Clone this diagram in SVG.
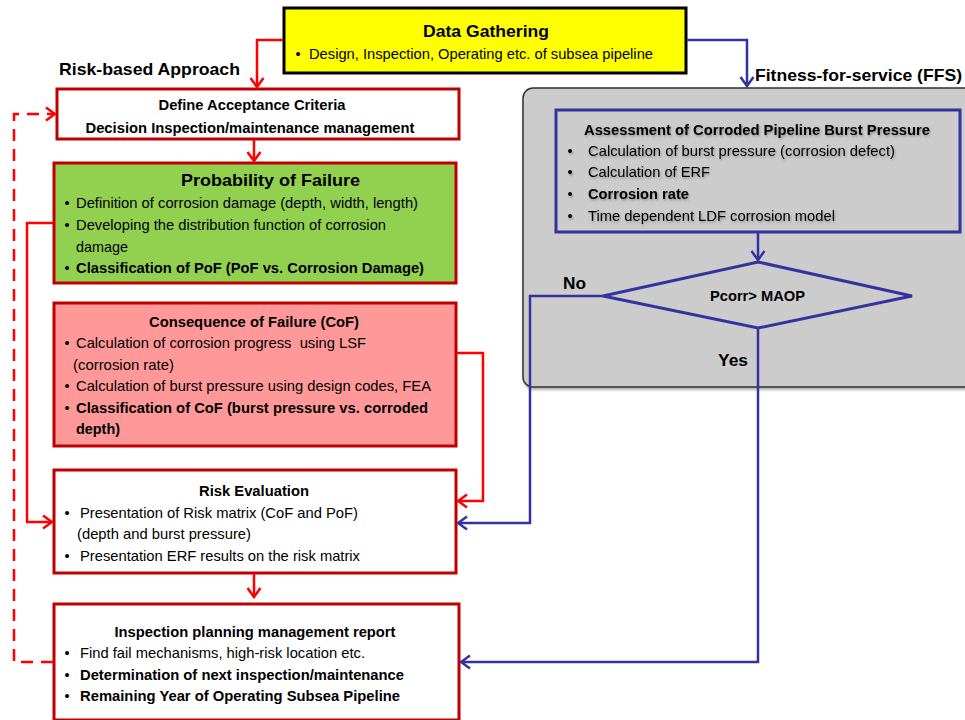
<svg xmlns="http://www.w3.org/2000/svg" width="965" height="720" viewBox="0 0 965 720">
<style>
text{font-family:"Liberation Sans",Arial,sans-serif;fill:#000}
.t{font-weight:bold;font-size:14px;text-anchor:middle}
.big{font-weight:bold;font-size:17px}
.b{font-size:14.5px}
.bb{font-size:14.5px;font-weight:bold}
.rbox{stroke:#C00000;stroke-width:3}
.red{fill:none;stroke:#FF0000;stroke-width:2.5}
.blue{fill:none;stroke:#3333A0;stroke-width:2.5}
.sh{filter:url(#ts)}
</style>
<defs>
<marker id="ar" markerUnits="userSpaceOnUse" viewBox="-12 -8 14 16" markerWidth="14" markerHeight="16" refX="0" refY="0" orient="auto">
<path d="M-9,-6.5 L0,0 L-9,6.5" fill="none" stroke="#FF0000" stroke-width="2.5"/>
</marker>
<marker id="ab" markerUnits="userSpaceOnUse" viewBox="-12 -8 14 16" markerWidth="14" markerHeight="16" refX="0" refY="0" orient="auto">
<path d="M-9,-6.5 L0,0 L-9,6.5" fill="none" stroke="#3333A0" stroke-width="2.5"/>
</marker>
<filter id="ts" x="-5%" y="-30%" width="110%" height="160%">
<feDropShadow dx="1" dy="1.5" stdDeviation="1" flood-color="#000" flood-opacity="0.3"/>
</filter>
<filter id="bs" x="-5%" y="-5%" width="110%" height="110%">
<feDropShadow dx="1" dy="2" stdDeviation="1.5" flood-color="#000" flood-opacity="0.35"/>
</filter>
</defs>

<g id="ffs-panel">
<rect x="523" y="88" width="460" height="299" rx="10" fill="#CCCCCC" stroke="#333" stroke-width="1.5" filter="url(#bs)"/>
</g>

<text class="big" x="59" y="75" textLength="181" lengthAdjust="spacingAndGlyphs">Risk-based Approach</text>
<text class="big" x="755" y="81" textLength="207" lengthAdjust="spacingAndGlyphs">Fitness-for-service (FFS)</text>

<g id="data-gathering">
<rect x="284" y="8" width="402" height="65" fill="#FFFF00" stroke="#000" stroke-width="3"/>
<text class="big" x="423" y="37" textLength="126" lengthAdjust="spacingAndGlyphs">Data Gathering</text>
<text class="b" x="295.5" y="59">•</text>
<text class="b" x="309" y="59" textLength="344" lengthAdjust="spacingAndGlyphs">Design, Inspection, Operating etc. of subsea pipeline</text>
</g>

<g id="acceptance">
<rect class="rbox" x="57" y="89" width="402" height="50" fill="#fff"/>
<text class="t" x="252" y="110" textLength="187" lengthAdjust="spacingAndGlyphs">Define Acceptance Criteria</text>
<text class="t" x="250" y="133" textLength="329" lengthAdjust="spacingAndGlyphs">Decision Inspection/maintenance management</text>
</g>

<g id="pof">
<rect class="rbox" x="54" y="163" width="402" height="120" fill="#92D050"/>
<text class="big" x="181" y="186" textLength="179" lengthAdjust="spacingAndGlyphs">Probability of Failure</text>
<text class="b" x="64.5" y="208">•</text>
<text class="b" x="76" y="208" textLength="342" lengthAdjust="spacingAndGlyphs">Definition of corrosion damage (depth, width, length)</text>
<text class="b" x="64.5" y="230">•</text>
<text class="b" x="76" y="230" textLength="310" lengthAdjust="spacingAndGlyphs">Developing the distribution function of corrosion</text>
<text class="b" x="76" y="252" textLength="52" lengthAdjust="spacingAndGlyphs">damage</text>
<text class="b" x="64.5" y="273">•</text>
<text class="bb" x="76" y="273" textLength="348" lengthAdjust="spacingAndGlyphs">Classification of PoF (PoF vs. Corrosion Damage)</text>
</g>

<g id="cof">
<rect class="rbox" x="54" y="303" width="402" height="143" fill="#FF9999"/>
<text class="t" x="254" y="327" textLength="210" lengthAdjust="spacingAndGlyphs">Consequence of Failure (CoF)</text>
<text class="b" x="64.5" y="348">•</text>
<text class="b" x="76" y="348" textLength="290" lengthAdjust="spacingAndGlyphs" xml:space="preserve">Calculation of corrosion progress  using LSF</text>
<text class="b" x="73" y="370" textLength="101" lengthAdjust="spacingAndGlyphs">(corrosion rate)</text>
<text class="b" x="64.5" y="391">•</text>
<text class="b" x="76" y="391" textLength="355" lengthAdjust="spacingAndGlyphs">Calculation of burst pressure using design codes, FEA</text>
<text class="b" x="64.5" y="413">•</text>
<text class="bb" x="76" y="413" textLength="352" lengthAdjust="spacingAndGlyphs">Classification of CoF (burst pressure vs. corroded</text>
<text class="bb" x="76" y="434" textLength="44" lengthAdjust="spacingAndGlyphs">depth)</text>
</g>

<g id="risk-evaluation">
<rect class="rbox" x="54" y="470" width="402" height="103" fill="#fff"/>
<text class="t" x="254" y="496" textLength="110" lengthAdjust="spacingAndGlyphs">Risk Evaluation</text>
<text class="b" x="64.5" y="518">•</text>
<text class="b" x="80" y="518" textLength="278" lengthAdjust="spacingAndGlyphs">Presentation of Risk matrix (CoF and PoF)</text>
<text class="b" x="77" y="539" textLength="174" lengthAdjust="spacingAndGlyphs">(depth and burst pressure)</text>
<text class="b" x="64.5" y="561">•</text>
<text class="b" x="80" y="561" textLength="280" lengthAdjust="spacingAndGlyphs">Presentation ERF results on the risk matrix</text>
</g>

<g id="inspection-report">
<rect class="rbox" x="54" y="604" width="405" height="116" fill="#fff"/>
<text class="t" x="255" y="637" textLength="281" lengthAdjust="spacingAndGlyphs">Inspection planning management report</text>
<text class="b" x="64.5" y="658">•</text>
<text class="b" x="80" y="658" textLength="285" lengthAdjust="spacingAndGlyphs">Find fail mechanisms, high-risk location etc.</text>
<text class="b" x="64.5" y="680">•</text>
<text class="bb" x="80" y="680" textLength="324" lengthAdjust="spacingAndGlyphs">Determination of next inspection/maintenance</text>
<text class="b" x="64.5" y="701">•</text>
<text class="bb" x="80" y="701" textLength="320" lengthAdjust="spacingAndGlyphs">Remaining Year of Operating Subsea Pipeline</text>
</g>

<g id="burst-assessment">
<rect x="556" y="110" width="404" height="122" fill="none" stroke="#3333A0" stroke-width="3"/>
<g class="sh">
<text class="t" x="757" y="135" textLength="346" lengthAdjust="spacingAndGlyphs">Assessment of Corroded Pipeline Burst Pressure</text>
<text class="b" x="567.5" y="156">•</text>
<text class="b" x="588" y="156" textLength="307" lengthAdjust="spacingAndGlyphs">Calculation of burst pressure (corrosion defect)</text>
<text class="b" x="567.5" y="177">•</text>
<text class="b" x="588" y="177" textLength="122" lengthAdjust="spacingAndGlyphs">Calculation of ERF</text>
<text class="b" x="567.5" y="199">•</text>
<text class="bb" x="588" y="199" textLength="101" lengthAdjust="spacingAndGlyphs">Corrosion rate</text>
<text class="b" x="567.5" y="221">•</text>
<text class="b" x="588" y="221" textLength="247" lengthAdjust="spacingAndGlyphs">Time dependent LDF corrosion model</text>
</g>
</g>

<g id="decision">
<polygon points="758,262 912,296 758,328 603,296" fill="none" stroke="#3333A0" stroke-width="3"/>
<text class="t" x="757.5" y="301" textLength="95" lengthAdjust="spacingAndGlyphs">Pcorr&gt; MAOP</text>
</g>

<g id="connectors">
<path class="red" d="M283,40 H257 V87" marker-end="url(#ar)"/>
<path class="blue" d="M687,40 H747 V86" marker-end="url(#ab)"/>
<path class="red" d="M254,140 V161" marker-end="url(#ar)"/>
<path class="red" d="M53,223 H27 V522 H52" marker-end="url(#ar)"/>
<path class="red" d="M457,353 H483 V501 H458" marker-end="url(#ar)"/>
<path class="red" d="M254,574 V597" marker-end="url(#ar)"/>
<path class="red" d="M53,662 H14 V114 H55" stroke-dasharray="12 8" marker-end="url(#ar)"/>
<path class="blue" d="M758,233 V260" marker-end="url(#ab)"/>
<path class="blue" d="M603,296 H530 V523 H458" marker-end="url(#ab)"/>
<path class="blue" d="M758,328 V662 H461" marker-end="url(#ab)"/>
<text class="big" x="563" y="289" textLength="23" lengthAdjust="spacingAndGlyphs">No</text>
<text class="big" x="718" y="366" textLength="30" lengthAdjust="spacingAndGlyphs">Yes</text>
</g>
</svg>
